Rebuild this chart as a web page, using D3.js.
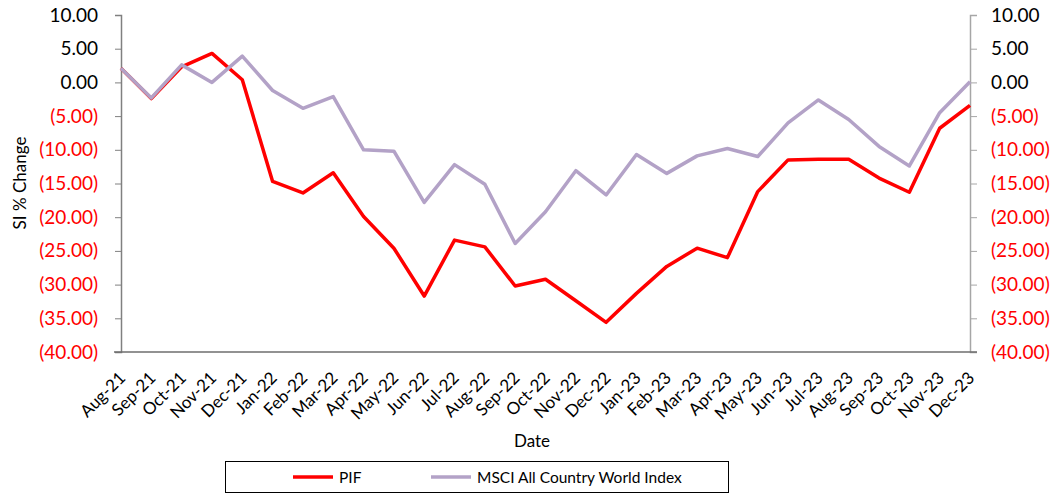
<!DOCTYPE html>
<html><head><meta charset="utf-8">
<script src="https://cdn.jsdelivr.net/npm/d3@7"></script>
<style>body{margin:0;background:#fff}svg{display:block;font-family:Lato,"Open Sans",sans-serif}</style>
</head><body><svg id="c" width="1063" height="494"></svg>
<script>
const dates = ["Aug-21","Sep-21","Oct-21","Nov-21","Dec-21","Jan-22","Feb-22","Mar-22","Apr-22","May-22","Jun-22","Jul-22","Aug-22","Sep-22","Oct-22","Nov-22","Dec-22","Jan-23","Feb-23","Mar-23","Apr-23","May-23","Jun-23","Jul-23","Aug-23","Sep-23","Oct-23","Nov-23","Dec-23"];
const pif = [2.1,-2.4,2.3,4.3,0.4,-14.7,-16.4,-13.4,-19.9,-24.6,-31.7,-23.4,-24.4,-30.2,-29.2,-32.4,-35.6,-31.3,-27.3,-24.6,-26.0,-16.2,-11.5,-11.4,-11.4,-14.2,-16.3,-6.8,-3.4];
const msci = [2.1,-2.3,2.6,0.0,3.9,-1.2,-3.85,-2.1,-10.0,-10.2,-17.8,-12.2,-15.1,-23.9,-19.2,-13.1,-16.7,-10.7,-13.5,-10.9,-9.8,-11.0,-6.0,-2.6,-5.5,-9.5,-12.4,-4.5,0.1];
const yTicks = [10,5,0,-5,-10,-15,-20,-25,-30,-35,-40];
const seriesNames = ["PIF","MSCI All Country World Index"];
const colors = ["#ff0000","#b3a2c7"];

(function(){
const svg = d3.select("#c");
const L = 121, R = 970, T = 15, B = 352;
const x = d3.scalePoint().domain(dates).range([L, R]);
const y = d3.scaleLinear().domain([-40, 10]).range([B, T]);
const fmt = v => v < 0 ? "(" + d3.format(".2f")(-v) + ")" : d3.format(".2f")(v);
const tcol = v => v < 0 ? "#ff0000" : "#000";

// left axis
const ga = svg.append("g").attr("transform", `translate(${L},0)`)
  .call(d3.axisLeft(y).tickValues(yTicks).tickSize(6).tickPadding(17).tickFormat(fmt));
ga.select(".domain").attr("stroke", "#808080").attr("stroke-width", 1.5);
ga.selectAll(".tick line").attr("stroke", "#808080");
ga.selectAll(".tick text").attr("fill", tcol).style("font-size", "19px").style("font-family", "Lato,sans-serif");

// right axis
const gr = svg.append("g").attr("transform", `translate(${R},0)`)
  .call(d3.axisRight(y).tickValues(yTicks).tickSize(7).tickPadding(14).tickFormat(fmt));
gr.select(".domain").attr("stroke", "#a6a6a6").attr("stroke-width", 1.5);
gr.selectAll(".tick line").attr("stroke", "#a6a6a6");
gr.selectAll(".tick text").attr("fill", tcol).style("font-size", "19px").style("font-family", "Lato,sans-serif");

// bottom axis
const gb = svg.append("g").attr("transform", `translate(0,${B})`)
  .call(d3.axisBottom(x).tickSize(0).tickPadding(0));
gb.select(".domain").remove();
svg.append("line").attr("x1", L - 7).attr("x2", R + 7).attr("y1", B).attr("y2", B)
  .attr("stroke", "#6e6e6e").attr("stroke-width", 1.5);
gb.selectAll(".tick text")
  .attr("text-anchor", "end")
  .attr("dy", null).attr("y", 0)
  .attr("transform", "translate(5,27) rotate(-45)")
  .attr("fill", "#000").style("font-size", "17px").style("font-family", "Lato,sans-serif");

// axis titles
svg.append("text").attr("x", 532).attr("y", 447).attr("text-anchor", "middle")
  .style("font-size", "17px").text("Date");
svg.append("text").attr("transform", "translate(26,183) rotate(-90)").attr("text-anchor", "middle")
  .style("font-size", "17px").text("SI % Change");

// lines
const line = d3.line().x((d, i) => x(dates[i])).y(d => y(d));
[pif, msci].forEach((s, k) => {
  svg.append("path").datum(s).attr("d", line).attr("fill", "none")
    .attr("stroke", colors[k]).attr("stroke-width", 3.5).attr("stroke-linejoin", "round");
});

// legend
svg.append("rect").attr("x", 225.5).attr("y", 461.5).attr("width", 503).attr("height", 31)
  .attr("fill", "#fff").attr("stroke", "#000").attr("stroke-width", 1);
const lx = [293, 431];
seriesNames.forEach((n, k) => {
  svg.append("line").attr("x1", lx[k]).attr("x2", lx[k] + 40).attr("y1", 477).attr("y2", 477)
    .attr("stroke", colors[k]).attr("stroke-width", 3.5);
  svg.append("text").attr("x", lx[k] + 46).attr("y", 483).style("font-size", "15.5px").text(n);
});
})();
</script></body></html>
